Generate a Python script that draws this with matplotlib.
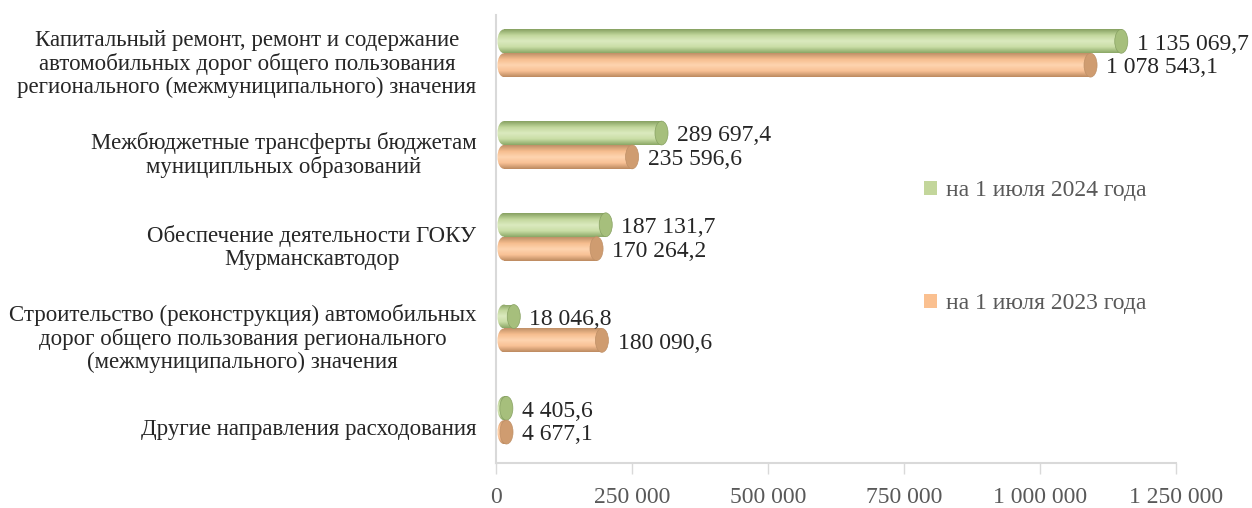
import numpy as np
import matplotlib
matplotlib.use('Agg')
import matplotlib.pyplot as plt
import matplotlib.transforms as mtransforms
from matplotlib.colors import LinearSegmentedColormap
from matplotlib.patches import Ellipse, Rectangle
from matplotlib.ticker import FuncFormatter

categories = [
    'Капитальный ремонт, ремонт и содержание\nавтомобильных дорог общего пользования\nрегионального (межмуниципального) значения',
    'Межбюджетные трансферты бюджетам\nмуниципльных образований',
    'Обеспечение деятельности ГОКУ\nМурманскавтодор',
    'Строительство (реконструкция) автомобильных\nдорог общего пользования регионального\n(межмуниципального) значения',
    'Другие направления расходования',
]
values_2024 = [1135069.7, 289697.4, 187131.7, 18046.8, 4405.6]
values_2023 = [1078543.1, 235596.6, 170264.2, 180090.6, 4677.1]
series_names = ['на 1 июля 2024 года', 'на 1 июля 2023 года']
xticks = [0, 250000, 500000, 750000, 1000000, 1250000]

#################################
font = 'Liberation Serif'
cat_size = 16.5
fsize = 17
bar_h = 0.26
depth = 15000      # 3d offset of the cylinders
cap_w = 24000      # width of the end ellipse in data units
green = {'shade': ['#87a162', '#c2d79c', '#dbeabf', '#cadea6', '#8ba766'],
         'cap': '#a6bf7c', 'legend': '#c3d69b'}
orange = {'shade': ['#bf9067', '#f6bd8e', '#fed4b0', '#f8c195', '#bd8a60'],
          'cap': '#cf9c70', 'legend': '#fac090'}
#################################

plt.rcParams['font.family'] = [font, 'DejaVu Serif']

fig = plt.figure(figsize=(12.52, 5.08), dpi=100)
ax = fig.add_axes([0.396, 0.088, 0.543, 0.882])

grad = np.linspace(0, 1, 64).reshape(-1, 1)


def cylinder(y, val, style):
    cmap = LinearSegmentedColormap.from_list('c', style['shade'])
    x0 = depth
    x1 = depth + val
    body = Rectangle((x0, y - bar_h / 2), val, bar_h, facecolor='none', edgecolor='none')
    ax.add_patch(body)
    left = Ellipse((x0, y), cap_w, bar_h, facecolor='none', edgecolor='none')
    ax.add_patch(left)
    for clip in (body, left):
        im = ax.imshow(grad, cmap=cmap, aspect='auto', interpolation='bilinear',
                       extent=[x0 - cap_w, x1, y + bar_h / 2, y - bar_h / 2], zorder=2)
        im.set_clip_path(clip)
    ax.add_patch(Ellipse((x1, y), cap_w, bar_h, facecolor=style['cap'],
                         edgecolor=style['shade'][0], linewidth=0.5, zorder=3))


def fmt(v):
    s = '{:,.1f}'.format(v).replace(',', ' ').replace('.', ',')
    return s


ypos = np.arange(len(categories))
for i in ypos:
    yg = i - bar_h / 2
    yo = i + bar_h / 2
    cylinder(yg, values_2024[i], green)
    cylinder(yo, values_2023[i], orange)
    ax.text(depth + values_2024[i] + cap_w * 1.2, yg + 0.03, fmt(values_2024[i]),
            va='center', ha='left', fontsize=fsize, color='#262626', zorder=4)
    ax.text(depth + values_2023[i] + cap_w * 1.2, yo + 0.03, fmt(values_2023[i]),
            va='center', ha='left', fontsize=fsize, color='#262626', zorder=4)

ax.set_xlim(0, 1250000)
ax.set_ylim(4.47, -0.414)
ax.set_yticks(ypos)
ax.set_yticklabels(categories, multialignment='center', fontsize=cat_size,
                   color='#262626', linespacing=1.12)
ax.tick_params(axis='y', length=0, pad=14)
# excel draws the category labels a little below the bar centres
shift = mtransforms.ScaledTranslation(0, -0.07, fig.dpi_scale_trans)
for lab in ax.get_yticklabels():
    lab.set_transform(lab.get_transform() + shift)

ax.set_xticks(xticks)
ax.xaxis.set_major_formatter(FuncFormatter(lambda v, p: '{:,.0f}'.format(v).replace(',', ' ')))
ax.tick_params(axis='x', length=8, width=1, color='#d9d9d9', labelsize=fsize,
               labelcolor='#595959', pad=9)

for side in ['top', 'right']:
    ax.spines[side].set_visible(False)
for side in ['left', 'bottom']:
    ax.spines[side].set_color('#d9d9d9')
    ax.spines[side].set_linewidth(1.5)

handles = [Rectangle((0, 0), 1, 1, facecolor=green['legend']),
           Rectangle((0, 0), 1, 1, facecolor=orange['legend'])]
fig.legend(handles, series_names, loc='upper left', bbox_to_anchor=(0.721, 0.687),
           frameon=False, fontsize=fsize, labelcolor='#595959', handlelength=0.55,
           handleheight=0.55, handletextpad=0.4, labelspacing=3.9)

plt.savefig('out.png', dpi=100)
plt.close()
